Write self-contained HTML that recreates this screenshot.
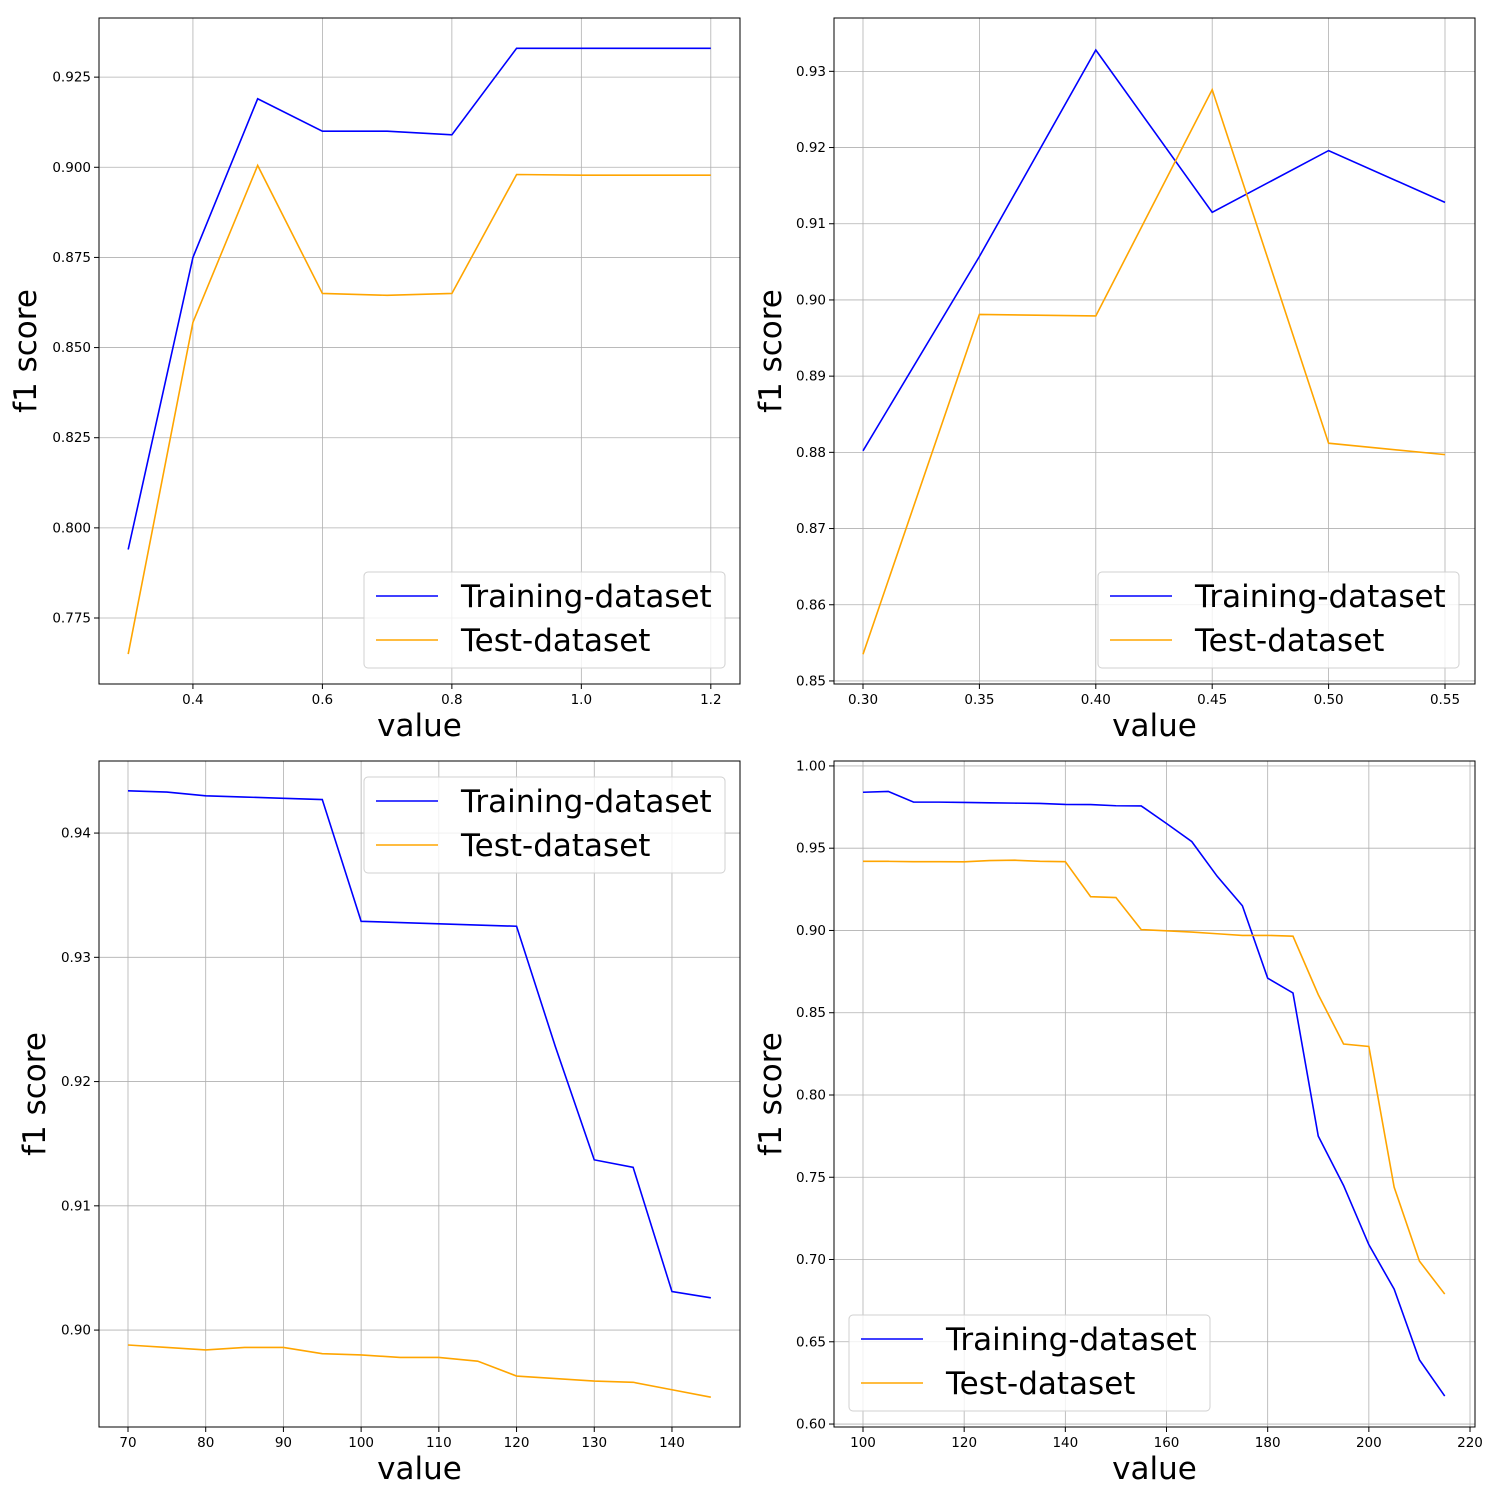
<!DOCTYPE html>
<html><head><meta charset="utf-8"><style>
body{margin:0;background:#fff;}
svg{display:block;font-family:"DejaVu Sans","Liberation Sans",sans-serif;}
</style></head><body>
<svg id="fig" width="1500" height="1500" viewBox="0 0 1500 1500" xmlns="http://www.w3.org/2000/svg"></svg>
<script>
// Panel 1 data
const p1X = [0.3,0.4,0.5,0.6,0.7,0.8,0.9,1.0,1.1,1.2];
const p1Train = [0.794,0.875,0.919,0.910,0.910,0.909,0.933,0.933,0.933,0.933];
const p1Test = [0.765,0.857,0.9005,0.865,0.8645,0.865,0.898,0.8978,0.8978,0.8978];
const p1XTicks = [0.4,0.6,0.8,1.0,1.2];
const p1XTickLabels = ["0.4","0.6","0.8","1.0","1.2"];
const p1YTicks = [0.775,0.8,0.825,0.85,0.875,0.9,0.925];
const p1YTickLabels = ["0.775","0.800","0.825","0.850","0.875","0.900","0.925"];
// Panel 2 data
const p2X = [0.30,0.35,0.40,0.45,0.50,0.55];
const p2Train = [0.8802,0.9057,0.9328,0.9115,0.9196,0.9128];
const p2Test = [0.8535,0.8981,0.8979,0.9276,0.8812,0.8797];
const p2XTicks = [0.30,0.35,0.40,0.45,0.50,0.55];
const p2XTickLabels = ["0.30","0.35","0.40","0.45","0.50","0.55"];
const p2YTicks = [0.85,0.86,0.87,0.88,0.89,0.90,0.91,0.92,0.93];
const p2YTickLabels = ["0.85","0.86","0.87","0.88","0.89","0.90","0.91","0.92","0.93"];
// Panel 3 data
const p3X = [70,75,80,85,90,95,100,105,110,115,120,125,130,135,140,145];
const p3Train = [0.9434,0.9433,0.9430,0.9429,0.9428,0.9427,0.9329,0.9328,0.9327,0.9326,0.9325,0.9228,0.9137,0.9131,0.9031,0.9026];
const p3Test = [0.8988,0.8986,0.8984,0.8986,0.8986,0.8981,0.8980,0.8978,0.8978,0.8975,0.8963,0.8961,0.8959,0.8958,0.8952,0.8946];
const p3XTicks = [70,80,90,100,110,120,130,140];
const p3XTickLabels = ["70","80","90","100","110","120","130","140"];
const p3YTicks = [0.90,0.91,0.92,0.93,0.94];
const p3YTickLabels = ["0.90","0.91","0.92","0.93","0.94"];
// Panel 4 data
const p4X = [100,105,110,115,120,125,130,135,140,145,150,155,160,165,170,175,180,185,190,195,200,205,210,215];
const p4Train = [0.984,0.9845,0.978,0.978,0.9778,0.9776,0.9774,0.9772,0.9766,0.9765,0.9758,0.9757,0.965,0.954,0.933,0.915,0.871,0.862,0.775,0.745,0.709,0.682,0.639,0.617];
const p4Test = [0.942,0.942,0.9418,0.9418,0.9417,0.9425,0.9427,0.942,0.9418,0.9205,0.920,0.9005,0.8998,0.899,0.898,0.897,0.897,0.8965,0.861,0.831,0.8295,0.744,0.699,0.679];
const p4XTicks = [100,120,140,160,180,200,220];
const p4XTickLabels = ["100","120","140","160","180","200","220"];
const p4YTicks = [0.60,0.65,0.70,0.75,0.80,0.85,0.90,0.95,1.00];
const p4YTickLabels = ["0.60","0.65","0.70","0.75","0.80","0.85","0.90","0.95","1.00"];

const NS="http://www.w3.org/2000/svg";
const fig=document.getElementById('fig');
function mk(tag,attrs,parent){const e=document.createElementNS(NS,tag);for(const k in attrs)e.setAttribute(k,attrs[k]);(parent||fig).appendChild(e);return e;}

function panel(id,box,xd,yd,xs,tr,te,xt,xtl,yt,ytl,leg,yoff){
  const g=mk('g',{});
  
  
  const [L,T,R,B]=box;
  const sx=v=>L+(v-xd[0])/(xd[1]-xd[0])*(R-L);
  const sy=v=>B-(v-yd[0])/(yd[1]-yd[0])*(B-T);
  xt.forEach((v,i)=>{
    const x=sx(v);
    const gl=mk('line',{x1:x,x2:x,y1:T,y2:B,stroke:'#b0b0b0','stroke-width':0.8},g);
    
    
    mk('line',{x1:x,x2:x,y1:B,y2:B+5,stroke:'#000','stroke-width':1},g);
    const t=mk('text',{x:x,y:B+20,'font-size':13.5,'text-anchor':'middle'},g);
    t.textContent=xtl[i];
    
    
  });
  yt.forEach((v,i)=>{
    const y=sy(v);
    const gl=mk('line',{x1:L,x2:R,y1:y,y2:y,stroke:'#b0b0b0','stroke-width':0.8},g);
    
    
    mk('line',{x1:L-5,x2:L,y1:y,y2:y,stroke:'#000','stroke-width':1},g);
    const t=mk('text',{x:L-8,y:y+4.5,'font-size':13.5,'text-anchor':'end'},g);
    t.textContent=ytl[i];
    
    
  });
  const l1=mk('polyline',{points:xs.map((v,i)=>sx(v)+','+sy(tr[i])).join(' '),fill:'none',stroke:'#0000ff','stroke-width':1.6},g);
  
  
  const l2=mk('polyline',{points:xs.map((v,i)=>sx(v)+','+sy(te[i])).join(' '),fill:'none',stroke:'#ffa500','stroke-width':1.6},g);
  
  
  const fr=mk('rect',{x:L,y:T,width:R-L,height:B-T,fill:'none',stroke:'#000','stroke-width':1},g);
  
  
  const xl=mk('text',{x:(L+R)/2,y:B+52,'font-size':31,'text-anchor':'middle'},g);
  xl.textContent='value';
  
  
  const yx=L-yoff;
  const yl=mk('text',{x:yx,y:(T+B)/2,'font-size':31,'text-anchor':'middle',transform:`rotate(-90 ${yx} ${(T+B)/2})`},g);
  yl.textContent='f1 score';
  
  
  const [lx,ly]=leg;
  const lg=mk('g',{},g);
  
  
  mk('rect',{x:lx,y:ly,width:361,height:96,rx:4,fill:'#fff','fill-opacity':0.8,stroke:'#d0d0d0'},lg);
  [['Training-dataset','#0000ff',24],['Test-dataset','#ffa500',68]].forEach(([n,c,dy])=>{
    mk('line',{x1:lx+12,x2:lx+74,y1:ly+dy,y2:ly+dy,stroke:c,'stroke-width':1.6},lg);
    const t=mk('text',{x:lx+97,y:ly+dy+11,'font-size':31},lg);
    t.textContent=n;
    
    
  });
}
panel('panel-1',[99,18,740,684],[0.2549,1.2451],[0.7567,0.9414],p1X,p1Train,p1Test,p1XTicks,p1XTickLabels,p1YTicks,p1YTickLabels,[364,572],63);
panel('panel-2',[834,18,1475,684],[0.3-29/2328,0.3+612/2328],[0.8496,0.937],p2X,p2Train,p2Test,p2XTicks,p2XTickLabels,p2YTicks,p2YTickLabels,[1098,572],53);
panel('panel-3',[99,761,740,1427],[70-29/7.771,70+612/7.771],[0.8922,0.9458],p3X,p3Train,p3Test,p3XTicks,p3XTickLabels,p3YTicks,p3YTickLabels,[364,777],54);
panel('panel-4',[834,761,1475,1427],[100-29/5.0585,100+612/5.0585],[0.5982,1.003],p4X,p4Train,p4Test,p4XTicks,p4XTickLabels,p4YTicks,p4YTickLabels,[849,1315],53);
</script>
</body></html>
